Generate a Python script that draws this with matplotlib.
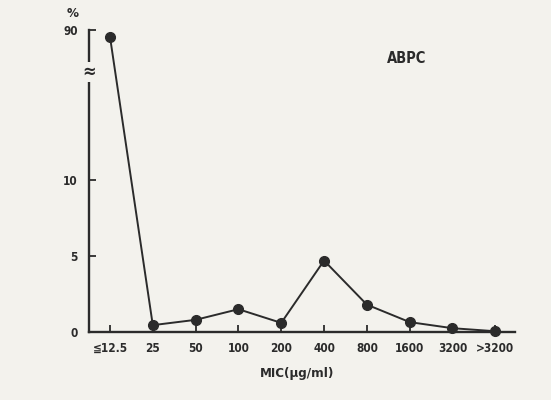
import numpy as np
import matplotlib
matplotlib.use("Agg")
import matplotlib.pyplot as plt

# data (% of strains per MIC class)
mic_labels = ["≦12.5", "25", "50", "100", "200", "400", "800", "1600", "3200", ">3200"]
percent = [88, 0.45, 0.8, 1.5, 0.6, 4.7, 1.8, 0.65, 0.25, 0.05]
ytick_vals = [0, 5, 10, 90]
ytick_text = ["0", "5", "10", "90"]

plt.rcParams['font.family'] = ['DejaVu Sans', 'Noto Sans CJK JP']
plt.rcParams['font.stretch'] = 'condensed'
plt.rcParams['font.weight'] = 'bold'

bg = '#f3f2ed'
ink = '#2b2b2b'

# broken y axis: linear below the break, squeezed above it
v_pts = [0, 16.5, 80, 100]
d_pts = [0, 16.5, 17.67, 22.07]
def fwd(v):
    return np.interp(v, v_pts, d_pts)
def inv(d):
    return np.interp(d, d_pts, v_pts)

fig = plt.figure(figsize=(5.51, 4.0), dpi=100, facecolor=bg)
ax = fig.add_axes([89/551, 68/400, 426/551, 302/400])
ax.set_facecolor(bg)
ax.set_yscale('function', functions=(fwd, inv))

x = np.arange(len(mic_labels))
ax.plot(x, percent, color=ink, lw=1.4, marker='o', ms=7, clip_on=False, zorder=3)

ax.set_xlim(-0.49, 9.46)
ax.set_ylim(0, 90)
ax.set_xticks(x)
ax.set_xticklabels(mic_labels)
ax.set_yticks(ytick_vals)
ax.set_yticklabels(ytick_text)
ax.minorticks_off()
ax.tick_params(direction='in', length=5, width=1.3, color=ink, labelcolor=ink,
               labelsize=8.5)
ax.tick_params(axis='x', pad=7)
ax.tick_params(axis='y', pad=8)

for s in ['top', 'right']:
    ax.spines[s].set_visible(False)
for s in ['left', 'bottom']:
    ax.spines[s].set_linewidth(1.7)
    ax.spines[s].set_color(ink)

# break mark on the y axis
ax.text(0, 0.861, "≈", transform=ax.transAxes, ha='center', va='center',
        fontsize=13, color=ink,
        bbox=dict(boxstyle='square,pad=0.05', fc=bg, ec='none'), zorder=5)

ax.text(-0.038, 1.055, "%", transform=ax.transAxes, ha='center', va='center',
        fontsize=9.5, color=ink)
ax.text(0.746, 0.904, "ABPC", transform=ax.transAxes, ha='center', va='center',
        fontsize=10.5, color=ink)
ax.text(0.488, -0.136, "MIC(μg/ml)", transform=ax.transAxes, ha='center', va='center',
        fontsize=9.5, color=ink)

plt.savefig("out.png", dpi=100, facecolor=bg)
